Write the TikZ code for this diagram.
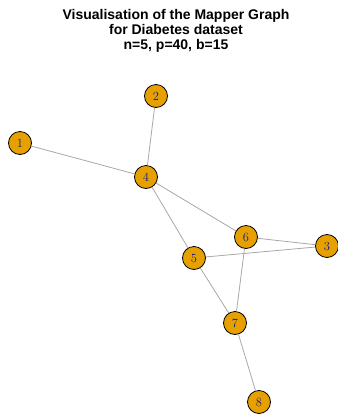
\documentclass[tikz,border=0pt]{standalone}
\usepackage{fontspec}
\newfontfamily\titlefont{Liberation Sans}
\definecolor{nodefill}{HTML}{E6A100}
\definecolor{edgegray}{HTML}{A8A8A8}
\definecolor{labelblue}{HTML}{1A1A80}
\begin{document}
\begin{tikzpicture}[x=1pt,y=-1pt,
  vert/.style={circle,draw=black,line width=0.8pt,fill=nodefill,minimum size=23pt,inner sep=0pt,font=\fontsize{12.5}{14}\selectfont,text=labelblue},
  edge/.style={draw=edgegray,line width=0.8pt},
  titletext/.style={font=\titlefont\bfseries\fontsize{14}{15}\selectfont,align=center,anchor=north}]
\useasboundingbox (0,0) rectangle (338,416);
\node[titletext] (title) at (176,6) {Visualisation of the Mapper Graph\\for Diabetes dataset\\n=5, p=40, b=15};
\node[vert] (n1) at (20,143) {1};
\node[vert] (n2) at (156,96) {2};
\node[vert] (n4) at (146,177) {4};
\node[vert] (n6) at (246,237) {6};
\node[vert] (n3) at (327,246) {3};
\node[vert] (n5) at (194,258) {5};
\node[vert] (n7) at (235,323) {7};
\node[vert] (n8) at (259,402) {8};
\path[edge] (n1) -- (n4);
\path[edge] (n2) -- (n4);
\path[edge] (n4) -- (n6);
\path[edge] (n4) -- (n5);
\path[edge] (n6) -- (n3);
\path[edge] (n5) -- (n3);
\path[edge] (n6) -- (n7);
\path[edge] (n5) -- (n7);
\path[edge] (n7) -- (n8);
\end{tikzpicture}
\end{document}
